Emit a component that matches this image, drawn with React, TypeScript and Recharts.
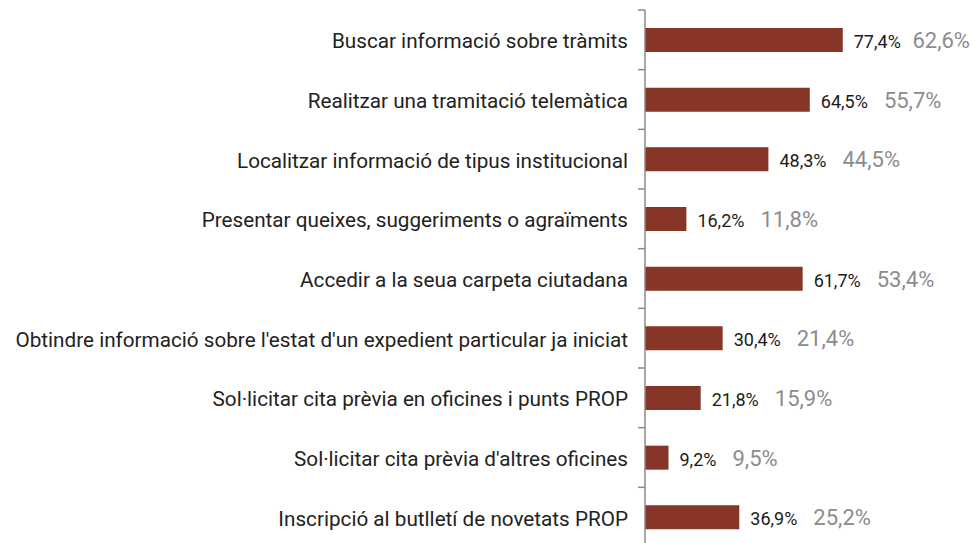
import React from 'react';
import { BarChart, Bar, XAxis, YAxis, LabelList } from 'recharts';

const categories = [
  'Buscar informació sobre tràmits',
  'Realitzar una tramitació telemàtica',
  'Localitzar informació de tipus institucional',
  'Presentar queixes, suggeriments o agraïments',
  'Accedir a la seua carpeta ciutadana',
  "Obtindre informació sobre l'estat d'un expedient particular ja iniciat",
  'Sol·licitar cita prèvia en oficines i punts PROP',
  "Sol·licitar cita prèvia d'altres oficines",
  'Inscripció al butlletí de novetats PROP',
];

const currentValues = [77.4, 64.5, 48.3, 16.2, 61.7, 30.4, 21.8, 9.2, 36.9];
const previousValues = [62.6, 55.7, 44.5, 11.8, 53.4, 21.4, 15.9, 9.5, 25.2];

const data = categories.map((name, i) => ({
  name,
  current: currentValues[i],
  previous: previousValues[i],
}));

const FONT = 'Roboto, sans-serif';
const AXIS_GREY = '#8a8a8a';

const fmt = (v: number) => v.toFixed(1).replace('.', ',') + '%';

const estWidth = (s: string, fs: number) => {
  let w = 0;
  for (const ch of s) {
    if (ch >= '0' && ch <= '9') w += 0.562 * fs;
    else if (ch === ',') w += 0.2 * fs;
    else if (ch === '%') w += 0.73 * fs;
    else w += 0.5 * fs;
  }
  return w;
};

const CategoryTick = (props: any) => {
  const { x, y, payload } = props;
  const off = payload && typeof payload.offset === 'number' && payload.offset > 0 ? payload.offset : 29.8;
  const lx1 = x + 10;
  const lx2 = x + 17;
  const isLast = payload && payload.index === categories.length - 1;
  return (
    <g>
      <line x1={lx1} x2={lx2} y1={y - off} y2={y - off} stroke={AXIS_GREY} strokeWidth={1.5} />
      {isLast && (
        <line x1={lx1} x2={lx2} y1={y + off} y2={y + off} stroke={AXIS_GREY} strokeWidth={1.5} />
      )}
      <text x={x} y={y + 8.5} textAnchor="end" fontFamily={FONT} fontSize={20.7} fill="#222222">
        {payload.value}
      </text>
    </g>
  );
};

const ValueLabel = (props: any) => {
  const { x, y, width, height, index } = props;
  const cur = currentValues[index];
  const prev = previousValues[index];
  const bx = Number(x) + Number(width) + 11;
  const base = Number(y) + Number(height) / 2 + 8;
  const curText = fmt(cur);
  const prevText = fmt(prev);
  const bw = estWidth(curText, 18);
  const gw = estWidth(prevText, 22);
  const gx = Math.min(bx + bw + 16, 970 - gw);
  return (
    <g>
      <text x={bx} y={base} fontFamily={FONT} fontSize={18} fill="#1a1a1a">
        {curText}
      </text>
      <text x={gx} y={base} fontFamily={FONT} fontSize={22} fill="#8c8c8c">
        {prevText}
      </text>
    </g>
  );
};

export default function App() {
  return (
    <div
      style={{
        position: 'fixed',
        top: 0,
        left: 0,
        width: 975,
        height: 543,
        overflow: 'hidden',
        background: '#ffffff',
      }}
    >
      <BarChart
        width={975}
        height={560}
        data={data}
        layout="vertical"
        margin={{ top: 10, right: 74.5, bottom: 13, left: 0 }}
      >
        <XAxis type="number" domain={[0, 100]} hide />
        <YAxis
          type="category"
          dataKey="name"
          width={645}
          interval={0}
          tickSize={7}
          tickMargin={10}
          tickLine={false}
          axisLine={{ stroke: AXIS_GREY, strokeWidth: 1.5 }}
          tick={<CategoryTick />}
        />
        <Bar dataKey="current" fill="#863526" barSize={24} isAnimationActive={false}>
          <LabelList dataKey="current" content={<ValueLabel />} />
        </Bar>
      </BarChart>
    </div>
  );
}
